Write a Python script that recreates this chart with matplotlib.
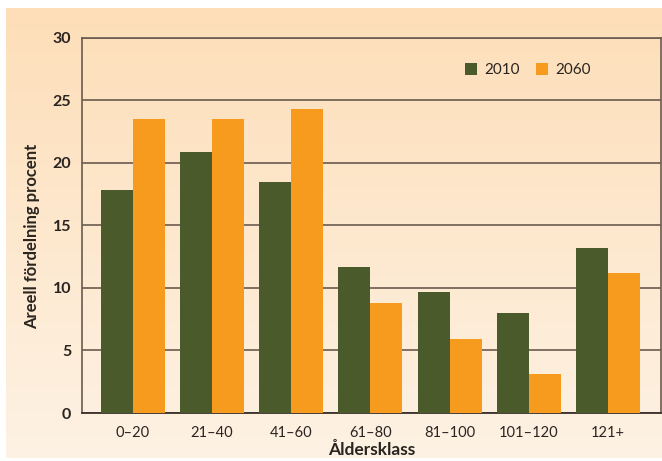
"""Areell fördelning per åldersklass, 2010 vs 2060."""

import matplotlib

matplotlib.use("Agg")

import matplotlib.pyplot as plt
import numpy as np

age_classes = ["0–20", "21–40", "41–60", "61–80", "81–100", "101–120", "121+"]
share_2010 = [17.8, 20.9, 18.5, 11.7, 9.7, 8.0, 13.2]
share_2060 = [23.5, 23.5, 24.3, 8.8, 5.9, 3.1, 11.2]
y_ticks = [0, 5, 10, 15, 20, 25, 30]

GREEN = "#4A5A2A"
ORANGE = "#F79B1F"
GRID = "#6A5B4E"
TEXT = "#2A2420"
FONT = ["Lato", "DejaVu Sans"]

W, H = 662, 461
fig = plt.figure(figsize=(W / 100, H / 100), dpi=100)
fig.patch.set_facecolor("white")

# peach gradient panel behind everything
bg = fig.add_axes([6 / W, 3 / H, 656 / W, 450 / H], zorder=0)
grad = np.linspace(0, 1, 256).reshape(-1, 1)
top = np.array(matplotlib.colors.to_rgb("#FDDEB8"))
bot = np.array(matplotlib.colors.to_rgb("#FEF2E4"))
img = top[None, None, :] * (1 - grad[..., None]) + bot[None, None, :] * grad[..., None]
bg.imshow(img, aspect="auto", extent=[0, 1, 0, 1])
bg.set_axis_off()

ax = fig.add_axes([82.3 / W, (H - 413) / H, (661 - 82.3) / W, (413 - 37.7) / H], zorder=1)
ax.set_facecolor("none")

x = np.arange(len(age_classes))
width = 0.404
ax.bar(x - width / 2, share_2010, width, color=GREEN, label="2010", zorder=3)
ax.bar(x + width / 2, share_2060, width, color=ORANGE, label="2060", zorder=3)

ax.set_xlim(-0.64, 6.67)
ax.set_ylim(0, 30)
ax.set_yticks(y_ticks)
ax.set_yticklabels([str(t) for t in y_ticks], family=FONT, fontsize=11.5,
                   fontweight="bold", color=TEXT)
ax.set_xticks(x)
ax.set_xticklabels(age_classes, family=FONT, fontsize=10.5, color=TEXT)
ax.tick_params(axis="both", length=0)
ax.tick_params(axis="y", pad=8)
ax.tick_params(axis="x", pad=9)

ax.grid(True, axis="y", color=GRID, linewidth=1.2, zorder=1)
ax.set_axisbelow(True)
for side in ["left", "right", "top"]:
    ax.spines[side].set_color(GRID)
    ax.spines[side].set_linewidth(1.2)
ax.spines["bottom"].set_color("#3A302A")
ax.spines["bottom"].set_linewidth(1.3)

ax.set_ylabel("Areell fördelning procent", family=FONT, fontsize=12,
              fontweight="bold", color=TEXT)
ax.yaxis.set_label_coords(-0.073, 0.47)
ax.set_xlabel("Åldersklass", family=FONT, fontsize=12.5, fontweight="bold",
              color=TEXT, labelpad=2)

leg = ax.legend(loc="center", bbox_to_anchor=(0.77, 0.914), ncol=2, frameon=False,
                prop={"family": FONT, "size": 11}, handlelength=0.8, handleheight=0.8,
                handletextpad=0.5, columnspacing=1.0)
for t in leg.get_texts():
    t.set_color(TEXT)

fig.savefig("out.png", dpi=100, facecolor=fig.get_facecolor())
